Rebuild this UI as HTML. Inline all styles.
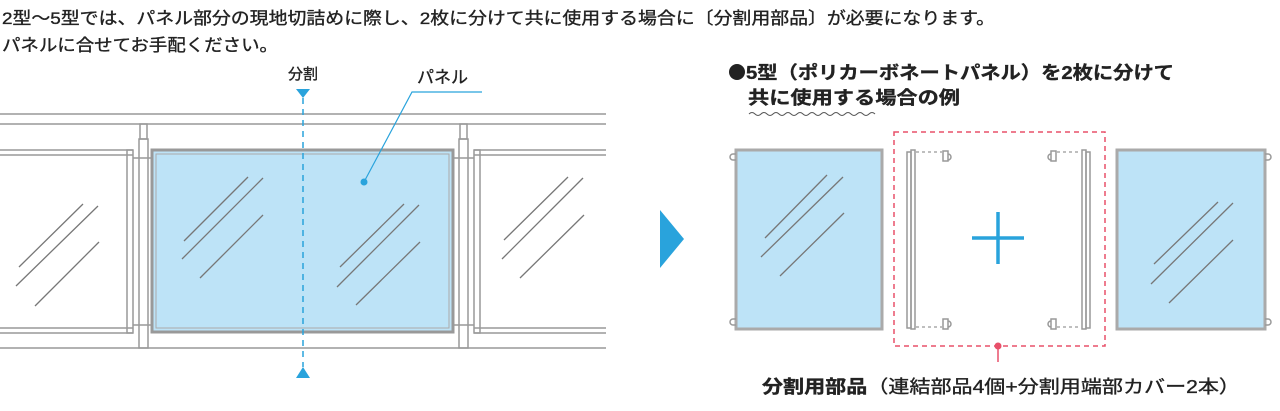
<!DOCTYPE html>
<html><head><meta charset="utf-8"><style>
html,body{margin:0;padding:0;background:#fff;width:1280px;height:411px;overflow:hidden}
text{font-family:"Liberation Sans","Noto Sans CJK JP",sans-serif;fill:#222;stroke:#222;stroke-width:0.35}
</style></head><body>
<svg width="1280" height="411" viewBox="0 0 1280 411" xmlns="http://www.w3.org/2000/svg">
<text x="2" y="24" font-size="17" textLength="993" lengthAdjust="spacingAndGlyphs">2型～5型では、パネル部分の現地切詰めに際し、2枚に分けて共に使用する場合に〔分割用部品〕が必要になります。</text>
<text x="2" y="51" font-size="17" textLength="276" lengthAdjust="spacingAndGlyphs">パネルに合せてお手配ください。</text>

<!-- left diagram -->
<g stroke="#999" fill="none" stroke-width="1.5">
<line x1="0" y1="114" x2="606" y2="114"/><line x1="0" y1="124" x2="606" y2="124"/>
<line x1="0" y1="150" x2="133" y2="150"/><line x1="0" y1="155" x2="133" y2="155"/>
<line x1="474" y1="150" x2="606" y2="150"/><line x1="474" y1="155" x2="606" y2="155"/>
<line x1="0" y1="328" x2="133" y2="328"/><line x1="0" y1="333" x2="133" y2="333"/>
<line x1="474" y1="328" x2="606" y2="328"/><line x1="474" y1="333" x2="606" y2="333"/>
<line x1="0" y1="348" x2="606" y2="348"/>
<rect x="127" y="150" width="6" height="183"/><rect x="474" y="150" width="6" height="183"/>
<rect x="139" y="139" width="9" height="209"/><rect x="459" y="139" width="9" height="209"/>
<rect x="140" y="124" width="7" height="15"/><rect x="460" y="124" width="7" height="15"/>
<line x1="133" y1="158" x2="152" y2="158"/><line x1="133" y1="325" x2="152" y2="325"/>
<line x1="453" y1="158" x2="474" y2="158"/><line x1="453" y1="325" x2="474" y2="325"/>
</g>
<rect x="152" y="150" width="301" height="182" fill="#bde3f7" stroke="#999" stroke-width="3"/>
<rect x="156" y="154" width="293" height="174" fill="none" stroke="#aaa" stroke-width="1"/>
<g stroke="#777" stroke-width="1.3">
<line x1="184" y1="241" x2="248" y2="177"/><line x1="182" y1="259" x2="263" y2="178"/><line x1="200" y1="278" x2="263" y2="215"/>
<line x1="340" y1="267" x2="404" y2="204"/><line x1="337" y1="287" x2="419" y2="205"/><line x1="356" y1="305" x2="420" y2="242"/>
<line x1="19" y1="267" x2="83" y2="204"/><line x1="16" y1="286" x2="98" y2="206"/><line x1="35" y1="306" x2="99" y2="242"/>
<line x1="504" y1="240" x2="568" y2="177"/><line x1="502" y1="259" x2="583" y2="178"/><line x1="520" y1="278" x2="584" y2="215"/>
</g>
<line x1="303" y1="98" x2="303" y2="367" stroke="#29a3dc" stroke-width="1.5" stroke-dasharray="6,5"/>
<polygon points="296,89 310,89 303,98" fill="#29a3dc"/>
<polygon points="296,378 310,378 303,367" fill="#29a3dc"/>
<text x="303" y="79" font-size="15" text-anchor="middle">分割</text>
<text x="417" y="83" font-size="17">パネル</text>
<polyline points="482,92 412,92 364,182" fill="none" stroke="#29a3dc" stroke-width="1.2"/>
<circle cx="364" cy="182" r="3.5" fill="#29a3dc"/>

<polygon points="660,210 684,239 660,268" fill="#29a3dc"/>

<!-- right -->
<circle cx="737" cy="72" r="8" fill="#222"/>
<text x="746" y="79" font-size="18" font-weight="bold" textLength="428" lengthAdjust="spacingAndGlyphs">5型（ポリカーボネートパネル）を2枚に分けて</text>
<text x="748" y="104" font-size="18" font-weight="bold" textLength="212" lengthAdjust="spacingAndGlyphs">共に使用する場合の例</text>
<path d="M749 114 q3 -3 6 0 t6 0 t6 0 t6 0 t6 0 t6 0 t6 0 t6 0 t6 0 t6 0 t6 0 t6 0 t6 0 t6 0 t6 0 t6 0 t6 0 t6 0 t6 0 t6 0 t6 0" fill="none" stroke="#555" stroke-width="1"/>

<rect x="736" y="150" width="146" height="179" fill="#bde3f7" stroke="#aaa" stroke-width="3"/>
<rect x="1117" y="150" width="148" height="179" fill="#bde3f7" stroke="#aaa" stroke-width="3"/>
<g fill="none" stroke="#999" stroke-width="1.5">
<path d="M736 154 h-3 a3 3 0 0 0 0 6 h3"/><path d="M736 319 h-3 a3 3 0 0 0 0 6 h3"/>
<path d="M1265 154 h3 a3 3 0 0 1 0 6 h-3"/><path d="M1265 319 h3 a3 3 0 0 1 0 6 h-3"/>
<rect x="907" y="152" width="4" height="176"/><rect x="911" y="150" width="4" height="179"/>
<rect x="1082" y="150" width="4" height="179"/><rect x="1086" y="152" width="4" height="176"/>
<path d="M943 151 h5 v10 h-5z M948 154 a3 3 0 0 1 0 6"/><path d="M943 319 h5 v10 h-5z M948 321 a3 3 0 0 1 0 6"/>
<path d="M1056 151 h-5 v10 h5z M1051 154 a3 3 0 0 0 0 6"/><path d="M1056 319 h-5 v10 h5z M1051 321 a3 3 0 0 0 0 6"/>
</g>
<g stroke="#999" stroke-width="1.2" stroke-dasharray="3,3">
<line x1="916" y1="152" x2="942" y2="152"/><line x1="916" y1="327" x2="942" y2="327"/>
<line x1="1057" y1="152" x2="1081" y2="152"/><line x1="1057" y1="327" x2="1081" y2="327"/>
</g>
<g stroke="#777" stroke-width="1.3">
<line x1="765" y1="238" x2="827" y2="175"/><line x1="761" y1="257" x2="843" y2="177"/><line x1="780" y1="276" x2="844" y2="213"/>
<line x1="1154" y1="264" x2="1218" y2="202"/><line x1="1151" y1="284" x2="1233" y2="203"/><line x1="1169" y1="303" x2="1233" y2="240"/>
</g>
<rect x="894" y="132" width="211" height="214" fill="none" stroke="#e8506a" stroke-width="1.5" stroke-dasharray="5,4"/>
<line x1="972" y1="238" x2="1024" y2="238" stroke="#29a3dc" stroke-width="3.5"/>
<line x1="998" y1="212" x2="998" y2="264" stroke="#29a3dc" stroke-width="3.5"/>
<circle cx="998" cy="346" r="3.5" fill="#e8506a"/>
<line x1="998" y1="346" x2="998" y2="362" stroke="#e8506a" stroke-width="1.5"/>
<text x="762" y="393" font-size="18" textLength="478" lengthAdjust="spacingAndGlyphs"><tspan font-weight="bold">分割用部品</tspan>（連結部品4個+分割用端部カバー2本）</text>
</svg>
</body></html>
